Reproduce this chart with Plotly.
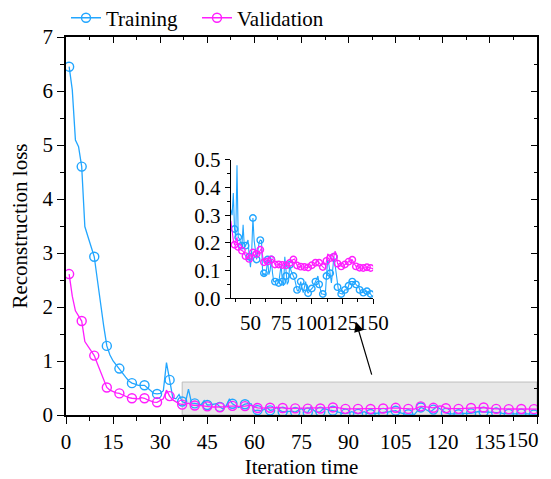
import plotly.graph_objects as go

epochs = list(range(1, 151))

train_loss = [
    6.45, 6.02, 5.09, 4.97, 4.60, 3.49, 3.30, 3.10, 2.93, 2.50,
    2.05, 1.65, 1.28, 1.11, 1.00, 0.92, 0.86, 0.78, 0.70, 0.63,
    0.59, 0.57, 0.55, 0.55, 0.55, 0.50, 0.45, 0.40, 0.39, 0.40,
    0.45, 0.97, 0.65, 0.32, 0.30, 0.38, 0.25, 0.22, 0.48, 0.22,
    0.215, 0.20, 0.19, 0.265, 0.185, 0.19, 0.20, 0.21, 0.15, 0.112,
    0.17, 0.29, 0.208, 0.17, 0.14, 0.17, 0.20, 0.21, 0.208, 0.08,
    0.09, 0.08, 0.10, 0.14, 0.085, 0.10, 0.14, 0.09, 0.06, 0.06,
    0.065, 0.07, 0.055, 0.08, 0.12, 0.06, 0.045, 0.15, 0.08, 0.05,
    0.06, 0.12, 0.10, 0.09, 0.08, 0.07, 0.05, 0.03, 0.025, 0.04,
    0.06, 0.04, 0.02, 0.04, 0.06, 0.03, 0.018, 0.025, 0.03, 0.035,
    0.04, 0.05, 0.06, 0.07, 0.08, 0.05, 0.03, 0.015, 0.015, 0.013,
    0.012, 0.08, 0.14, 0.12, 0.09, 0.055, 0.10, 0.15, 0.12, 0.08,
    0.04, 0.02, 0.018, 0.015, 0.015, 0.02, 0.03, 0.03, 0.03, 0.045,
    0.06, 0.06, 0.06, 0.06, 0.055, 0.05, 0.045, 0.045, 0.03, 0.02,
    0.02, 0.02, 0.022, 0.025, 0.025, 0.02, 0.02, 0.015, 0.008, 0.008,
]

val_loss = [
    2.61, 2.20, 1.93, 1.83, 1.74, 1.36, 1.28, 1.18, 1.10, 0.95,
    0.80, 0.65, 0.51, 0.46, 0.43, 0.41, 0.40, 0.37, 0.34, 0.32,
    0.31, 0.31, 0.30, 0.32, 0.31, 0.28, 0.26, 0.24, 0.235, 0.27,
    0.30, 0.46, 0.35, 0.28, 0.24, 0.21, 0.193, 0.21, 0.22, 0.185,
    0.175, 0.175, 0.172, 0.17, 0.16, 0.152, 0.148, 0.145, 0.142, 0.141,
    0.15, 0.165, 0.169, 0.165, 0.16, 0.157, 0.165, 0.175, 0.18, 0.15,
    0.13, 0.127, 0.13, 0.133, 0.135, 0.137, 0.14, 0.141, 0.13, 0.122,
    0.12, 0.121, 0.122, 0.123, 0.121, 0.12, 0.118, 0.118, 0.119, 0.12,
    0.12, 0.127, 0.133, 0.137, 0.14, 0.142, 0.13, 0.118, 0.114, 0.114,
    0.114, 0.114, 0.114, 0.113, 0.112, 0.111, 0.111, 0.113, 0.116, 0.119,
    0.12, 0.124, 0.128, 0.132, 0.133, 0.128, 0.122, 0.118, 0.113, 0.109,
    0.108, 0.135, 0.16, 0.155, 0.145, 0.138, 0.133, 0.15, 0.17, 0.16,
    0.125, 0.12, 0.117, 0.115, 0.114, 0.117, 0.122, 0.127, 0.129, 0.132,
    0.135, 0.138, 0.139, 0.13, 0.12, 0.115, 0.114, 0.112, 0.11, 0.108,
    0.108, 0.109, 0.11, 0.111, 0.112, 0.111, 0.11, 0.109, 0.108, 0.107,
]

series_names = ["Training", "Validation"]
main_x_ticks = list(range(0, 151, 15))
main_x_labels = [str(v) for v in main_x_ticks]
main_y_ticks = list(range(0, 8))
inset_x_ticks = [50, 75, 100, 125, 150]
inset_y_ticks = [0.0, 0.1, 0.2, 0.3, 0.4, 0.5]

BLUE = "#22A6FF"
MAG = "#FF1EFF"
FONT = "Liberation Serif"
FS = 21

main_mark_idx = list(range(0, 150, 4))       # epochs 1,5,9,...
inset_mark_idx = list(range(36, 150, 3))     # epochs 37,40,...

fig = go.Figure()

# zoom region rectangle
fig.add_shape(type="rect", x0=37, x1=150, y0=0, y1=0.61, xref="x", yref="y",
              fillcolor="#E8E8E8", line=dict(color="#BDBDBD", width=1), layer="below")

for name, ys, col in [(series_names[0], train_loss, BLUE), (series_names[1], val_loss, MAG)]:
    fig.add_trace(go.Scatter(x=epochs, y=ys, mode="lines", line=dict(color=col, width=1.3),
                             showlegend=False, hoverinfo="skip"))
    fig.add_trace(go.Scatter(x=[epochs[i] for i in main_mark_idx], y=[ys[i] for i in main_mark_idx],
                             mode="markers", showlegend=False,
                             marker=dict(symbol="circle-open", size=9, color=col, line=dict(width=1.4))))
    fig.add_trace(go.Scatter(x=[None], y=[None], mode="lines+markers", name=name,
                             line=dict(color=col, width=1.3),
                             marker=dict(symbol="circle-open", size=9, color=col, line=dict(width=1.4))))
    # inset
    ins_x = [e for e in epochs if e >= 34]
    ins_y = [ys[e - 1] for e in ins_x]
    fig.add_trace(go.Scatter(x=ins_x, y=ins_y, mode="lines", line=dict(color=col, width=1.1),
                             xaxis="x3", yaxis="y3", showlegend=False, hoverinfo="skip"))
    fig.add_trace(go.Scatter(x=[epochs[i] for i in inset_mark_idx], y=[ys[i] for i in inset_mark_idx],
                             mode="markers", xaxis="x3", yaxis="y3", showlegend=False,
                             marker=dict(symbol="circle-open", size=6.5, color=col, line=dict(width=1.4))))

# dummy trace for mirrored top/right axes
fig.add_trace(go.Scatter(x=[None], y=[None], xaxis="x2", yaxis="y2", showlegend=False, hoverinfo="skip"))

axis_common = dict(showgrid=False, zeroline=False, linecolor="black", linewidth=1.6,
                   tickcolor="black", tickwidth=1.3, automargin=False,
                   tickfont=dict(family=FONT, size=FS, color="black"))

fig.update_layout(
    width=551, height=479,
    margin=dict(l=58, r=22, t=29, b=72, autoexpand=False),
    paper_bgcolor="white", plot_bgcolor="white",
    font=dict(family=FONT, size=FS, color="black"),
    xaxis=dict(range=[0, 150], tickvals=main_x_ticks, ticktext=main_x_labels[:-1] + [""],
               ticks="outside", ticklen=7,
               minor=dict(ticks="outside", ticklen=4, dtick=7.5, tick0=0, tickcolor="black", tickwidth=1.3),
               title=dict(text="Iteration time", font=dict(family=FONT, size=FS), standoff=6),
               **axis_common),
    yaxis=dict(range=[0, 7], tickvals=main_y_ticks, ticks="outside", ticklen=7,
               minor=dict(ticks="outside", ticklen=4, dtick=0.5, tick0=0, tickcolor="black", tickwidth=1.3),
               title=dict(text="Reconstruction loss", font=dict(family=FONT, size=FS), standoff=12),
               **axis_common),
    xaxis2=dict(range=[0, 150], overlaying="x", side="top", tickvals=main_x_ticks, ticks="inside",
                ticklen=6, showticklabels=False,
                minor=dict(ticks="inside", ticklen=3, dtick=7.5, tick0=0, tickcolor="black", tickwidth=1.3),
                **axis_common),
    yaxis2=dict(range=[0, 7], overlaying="y", side="right", tickvals=main_y_ticks, ticks="inside",
                ticklen=6, showticklabels=False,
                minor=dict(ticks="inside", ticklen=3, dtick=0.5, tick0=0, tickcolor="black", tickwidth=1.3),
                **axis_common),
    xaxis3=dict(domain=[0.350, 0.652], anchor="y3", range=[34, 150], tickvals=inset_x_ticks,
                ticks="outside", ticklen=5, tickangle=0, ticklabeloverflow="allow",
                minor=dict(ticks="outside", ticklen=3, dtick=12.5, tick0=0, tickcolor="black", tickwidth=1.2),
                **{**axis_common, "linewidth": 1.4}),
    yaxis3=dict(domain=[0.309, 0.675], anchor="x3", range=[0, 0.5], tickvals=inset_y_ticks,
                tickformat=".1f", ticks="outside", ticklen=5,
                minor=dict(ticks="outside", ticklen=3, dtick=0.05, tick0=0, tickcolor="black", tickwidth=1.2),
                **{**axis_common, "linewidth": 1.4}),
    legend=dict(orientation="h", x=0.0, xanchor="left", y=1.05, yanchor="middle",
                font=dict(family=FONT, size=FS), bgcolor="rgba(0,0,0,0)", itemwidth=30,
                entrywidth=86, entrywidthmode="pixels", tracegroupgap=0),
)

# last x tick label, kept inside the visible page
fig.add_annotation(x=main_x_ticks[-1], y=0, xref="x", yref="paper", text=main_x_labels[-1],
                   showarrow=False, xanchor="right", yanchor="middle", xshift=4, yshift=-25,
                   font=dict(family=FONT, size=FS, color="black"))

fig.add_annotation(x=92.4, y=1.72, ax=97.5, ay=0.72, xref="x", yref="y", axref="x", ayref="y",
                   text="", showarrow=True, arrowhead=2, arrowsize=1.6, arrowwidth=1.2, arrowcolor="black")

fig.write_html("out.html")
